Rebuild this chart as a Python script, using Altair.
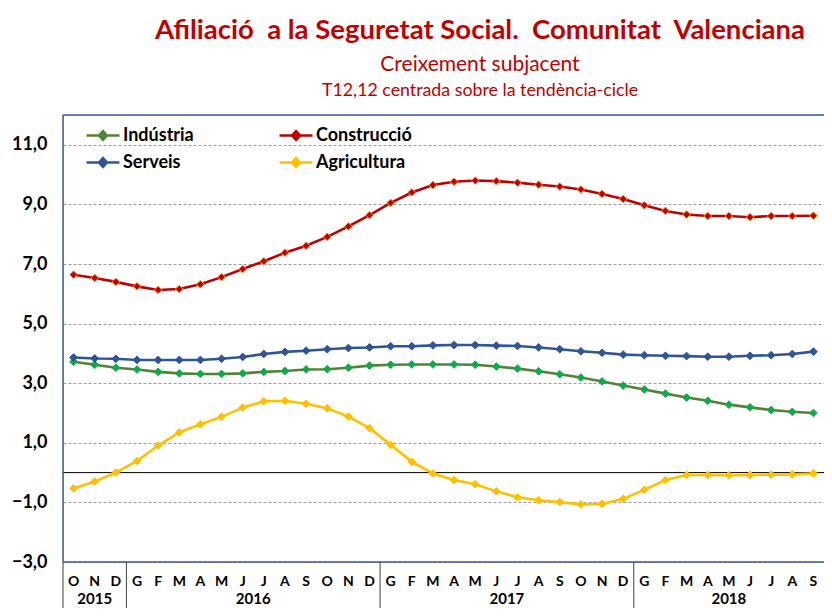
import altair as alt
import pandas as pd

# ---------------- data ----------------
months = ["O", "N", "D",
          "G", "F", "M", "A", "M", "J", "J", "A", "S", "O", "N", "D",
          "G", "F", "M", "A", "M", "J", "J", "A", "S", "O", "N", "D",
          "G", "F", "M", "A", "M", "J", "J", "A", "S"]
years = ["2015", "2016", "2017", "2018"]
year_start = [0, 3, 15, 27]
year_end = [2, 14, 26, 35]

series = ["Indústria", "Construcció", "Serveis", "Agricultura"]

industria = [3.72, 3.62, 3.52, 3.46, 3.38, 3.33, 3.31, 3.31, 3.33, 3.38, 3.41, 3.46,
             3.47, 3.52, 3.59, 3.62, 3.63, 3.63, 3.63, 3.62, 3.56, 3.49, 3.40, 3.30,
             3.19, 3.06, 2.92, 2.79, 2.65, 2.52, 2.41, 2.28, 2.19, 2.10, 2.04, 2.00]
construccio = [6.64, 6.53, 6.40, 6.25, 6.13, 6.16, 6.32, 6.56, 6.83, 7.09, 7.38, 7.61,
               7.91, 8.26, 8.64, 9.05, 9.40, 9.65, 9.76, 9.80, 9.78, 9.73, 9.66, 9.60,
               9.50, 9.35, 9.18, 8.97, 8.78, 8.66, 8.61, 8.61, 8.57, 8.61, 8.61, 8.62]
serveis = [3.86, 3.83, 3.82, 3.78, 3.78, 3.78, 3.78, 3.82, 3.88, 3.98, 4.05, 4.09,
           4.14, 4.18, 4.20, 4.24, 4.24, 4.27, 4.28, 4.28, 4.26, 4.25, 4.20, 4.14,
           4.07, 4.02, 3.96, 3.94, 3.92, 3.91, 3.89, 3.89, 3.92, 3.94, 3.98, 4.06]
agricultura = [-0.53, -0.30, 0.00, 0.39, 0.91, 1.35, 1.62, 1.87, 2.18, 2.39, 2.41, 2.31,
               2.16, 1.88, 1.49, 0.93, 0.36, -0.03, -0.25, -0.39, -0.63, -0.83, -0.93, -0.99,
               -1.07, -1.05, -0.88, -0.58, -0.25, -0.08, -0.08, -0.09, -0.08, -0.07, -0.06, -0.03]

y_ticks = [-3, -1, 1, 3, 5, 7, 9, 11]
y_min, y_max = -3, 12

title_text = "Afiliació  a la Seguretat Social.  Comunitat  Valenciana".replace("  ", "\u00a0 ")
subtitle_text = "Creixement subjacent"
subtitle2_text = "T12,12 centrada sobre la tendència-cicle"

# ---------------- styles ----------------
line_colors = ["#548235", "#C00000", "#2F5597", "#FFC000"]
marker_fill = ["#00B050", "#C00000", "#2F5597", "#FFC000"]
marker_stroke = ["#2E9E48", "#F39A3A", "#2F5597", "#FFC000"]
RED = "#C00000"
FRAME = "#3A5A9A"
FONT = "Lato"

W, H = 761, 447

rows = []
for name, vals in zip(series, [industria, construccio, serveis, agricultura]):
    for i, v in enumerate(vals):
        rows.append({"serie": name, "idx": i, "valor": v})
df = pd.DataFrame(rows)

x_scale = alt.Scale(domain=[-0.5, len(months) - 0.5], nice=False, zero=False)
y_scale = alt.Scale(domain=[y_min, y_max], nice=False, zero=False)

y_axis = alt.Axis(values=y_ticks,
                  labelExpr="replace(format(datum.value, '.1f'), '.', ',')",
                  labelFont=FONT, labelFontSize=18, labelFontWeight="bold",
                  labelColor="black", ticks=False, domain=False, grid=True,
                  gridDash=[3, 2], gridColor="#9A9A9A", gridWidth=1,
                  labelPadding=16)

base = alt.Chart(df)

lines = base.mark_line(strokeWidth=2.6).encode(
    x=alt.X("idx:Q", scale=x_scale, axis=None),
    y=alt.Y("valor:Q", scale=y_scale, title=None, axis=y_axis),
    color=alt.Color("serie:N", scale=alt.Scale(domain=series, range=line_colors),
                    sort=series,
                    legend=alt.Legend(title=None, orient="none", legendX=30.5, legendY=11,
                                      direction="horizontal",
                                      columns=2, columnPadding=80, rowPadding=8,
                                      symbolType="M-2.06,0L2.06,0M0,-0.55L0.5,0L0,0.55L-0.5,0Z",
                                      symbolSize=256, symbolStrokeWidth=2.5,
                                      labelFont=FONT, labelFontSize=18,
                                      labelFontWeight="bold", labelColor="black",
                                      labelOffset=10.5, padding=0)),
    detail="serie:N",
)

points = base.mark_point(shape="diamond", filled=True, size=60, strokeWidth=1,
                         opacity=1).encode(
    x=alt.X("idx:Q", scale=x_scale, axis=None),
    y=alt.Y("valor:Q", scale=y_scale, title=None),
    fill=alt.Fill("serie:N", scale=alt.Scale(domain=series, range=marker_fill), legend=None),
    stroke=alt.Stroke("serie:N", scale=alt.Scale(domain=series, range=marker_stroke), legend=None),
)

zero_rule = alt.Chart(pd.DataFrame({"y": [0]})).mark_rule(
    color="black", strokeWidth=1).encode(y=alt.Y("y:Q", scale=y_scale, title=None))

# plot frame: top and bottom edges, left edge (the right edge lies off-picture)
hframe = alt.Chart(pd.DataFrame({"y": [y_min, y_max]})).mark_rule(
    color=FRAME, strokeWidth=1.5).encode(y=alt.Y("y:Q", scale=y_scale, title=None))

sep_df = pd.DataFrame({"x": [s - 0.5 for s in year_start]})
separators = alt.Chart(sep_df).mark_rule(color="#404040", strokeWidth=1).encode(
    x=alt.X("x:Q", scale=x_scale, axis=None),
    y=alt.value(H), y2=alt.value(H + 50))
left_frame = alt.Chart(pd.DataFrame({"x": [-0.5]})).mark_rule(
    color=FRAME, strokeWidth=1.5).encode(
    x=alt.X("x:Q", scale=x_scale, axis=None),
    y=alt.value(0), y2=alt.value(H))

month_df = pd.DataFrame({"idx": list(range(len(months))), "mes": months})
month_labels = alt.Chart(month_df).mark_text(
    font=FONT, fontSize=14, fontWeight="bold", color="black", baseline="middle").encode(
    x=alt.X("idx:Q", scale=x_scale, axis=None),
    y=alt.value(H + 20), text="mes:N")

year_df = pd.DataFrame({"year": years,
                        "center": [(s + e) / 2 for s, e in zip(year_start, year_end)]})
year_labels = alt.Chart(year_df).mark_text(
    font=FONT, fontSize=15, fontWeight="bold", color="black", baseline="middle").encode(
    x=alt.X("center:Q", scale=x_scale, axis=None),
    y=alt.value(H + 37), text="year:N")

sub2 = alt.Chart(pd.DataFrame({"t": [subtitle2_text]})).mark_text(
    font=FONT, fontSize=17.8, color=RED, baseline="middle").encode(
    x=alt.value(W / 2 + 36.5), y=alt.value(-24), text="t:N")

chart = alt.layer(zero_rule, lines, points, hframe, left_frame, separators,
                  month_labels, year_labels, sub2).properties(
    width=W, height=H,
    autosize=alt.AutoSizeParams(type="none"),
    padding={"left": 55, "top": 107, "right": 0, "bottom": 46},
    title=alt.TitleParams(text=title_text, subtitle=subtitle_text,
                          font=FONT, fontSize=27.5, fontWeight="bold", color=RED,
                          subtitleFont=FONT, subtitleFontSize=21, subtitleColor=RED,
                          anchor="middle", dx=36.5, offset=7, subtitlePadding=10),
).configure_view(strokeWidth=0).configure(background="white")

chart.save("out.html", embed_options={"renderer": "svg", "actions": False})
